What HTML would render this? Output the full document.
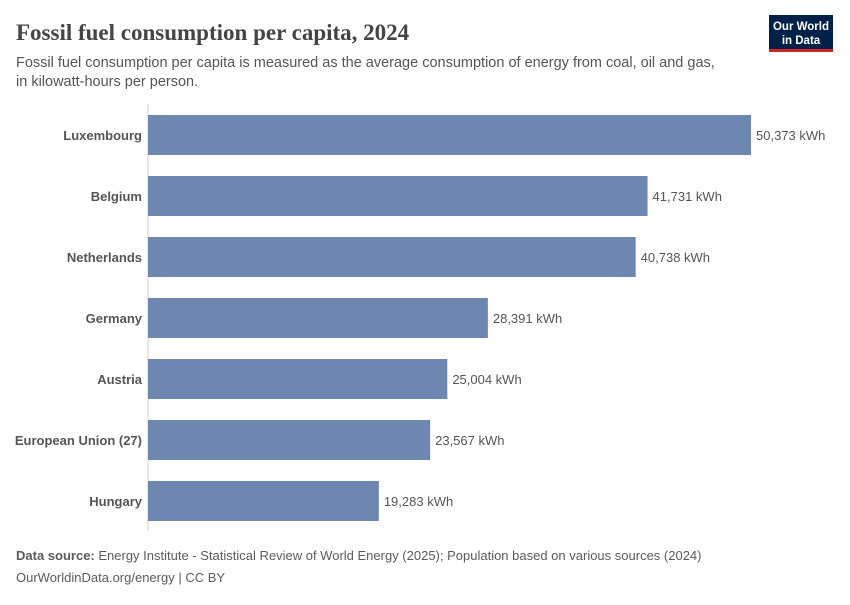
<!DOCTYPE html>
<html><head><meta charset="utf-8"><style>
body{margin:0;background:#fff;width:850px;height:600px;overflow:hidden;font-family:"Liberation Sans",sans-serif}
</style></head><body>
<svg width="850" height="600" xmlns="http://www.w3.org/2000/svg">
<text x="16" y="40" font-family="Liberation Serif,serif" font-size="23" font-weight="bold" fill="#444">Fossil fuel consumption per capita, 2024</text>
<text x="16" y="67" font-size="14.5" fill="#555">Fossil fuel consumption per capita is measured as the average consumption of energy from coal, oil and gas,</text>
<text x="16" y="86" font-size="14.5" fill="#555">in kilowatt-hours per person.</text>
<g>
<rect x="769" y="15" width="64" height="37" fill="#002147"/>
<rect x="769" y="49" width="64" height="3" fill="#ce261e"/>
<text x="801" y="30" font-size="11.5" fill="#fff" text-anchor="middle" font-weight="bold">Our World</text>
<text x="801" y="44" font-size="11.5" fill="#fff" text-anchor="middle" font-weight="bold">in Data</text>
</g>
<line x1="148" y1="104" x2="148" y2="530" stroke="#ccc"/>
<g id="bars"></g>
<text x="16" y="560" font-size="13" fill="#5b5b5b"><tspan font-weight="bold">Data source:</tspan> Energy Institute - Statistical Review of World Energy (2025); Population based on various sources (2024)</text>
<text x="16" y="582" font-size="13" fill="#5b5b5b">OurWorldinData.org/energy | CC BY</text>
</svg>
<script>
const categories=["Luxembourg","Belgium","Netherlands","Germany","Austria","European Union (27)","Hungary"];
const values=[50373,41731,40738,28391,25004,23567,19283];
const labels=["50,373 kWh","41,731 kWh","40,738 kWh","28,391 kWh","25,004 kWh","23,567 kWh","19,283 kWh"];
const x0=148,xMaxPx=751,vMax=50373;
function xs(v){return x0+(v/vMax)*(xMaxPx-x0);}
function ys(i){return 115+i*61;}
const g=document.getElementById('bars');const NS="http://www.w3.org/2000/svg";
categories.forEach((c,i)=>{
 const r=document.createElementNS(NS,'rect');
 r.setAttribute('x',x0);r.setAttribute('y',ys(i));r.setAttribute('width',xs(values[i])-x0);r.setAttribute('height',40);r.setAttribute('fill','#6d87b0');
 
 
 g.appendChild(r);
 const t=document.createElementNS(NS,'text');
 t.setAttribute('x',142);t.setAttribute('y',ys(i)+25);t.setAttribute('text-anchor','end');t.setAttribute('font-size','13');t.setAttribute('font-weight','bold');t.setAttribute('fill','#555');t.textContent=c;
 
 
 g.appendChild(t);
 const v=document.createElementNS(NS,'text');
 v.setAttribute('x',xs(values[i])+5);v.setAttribute('y',ys(i)+25);v.setAttribute('font-size','13');v.setAttribute('fill','#555');v.textContent=labels[i];
 
 
 g.appendChild(v);
});
</script>
</body></html>
